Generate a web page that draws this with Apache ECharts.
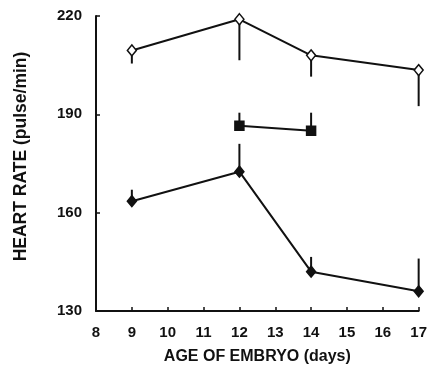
<!DOCTYPE html>
<html>
<head>
<meta charset="utf-8">
<script src="https://cdn.jsdelivr.net/npm/echarts@6/dist/echarts.min.js"></script>
<style>
  html, body { margin: 0; padding: 0; background: #fff; }
  #chart { width: 430px; height: 370px; }
</style>
</head>
<body>
<div id="chart"></div>
<script>
// days of incubation
const days = [9, 12, 14, 17];
const openMean = [209.5, 219, 208, 203.5];
const openLow = [205.5, 206.5, 201.5, 192.5];
const squareDays = [12, 14];
const squareMean = [186.5, 185];
const squareHigh = [190.5, 190.5];
const filledMean = [163.5, 172.5, 142, 136];
const filledHigh = [167, 181, 146.5, 146];
const yTicks = [130, 160, 190, 220];

const ink = "#111";
const font = "Liberation Sans";

function pairs(xs, ys) {
  return xs.map((x, i) => [x, ys[i]]);
}
function bars(xs, ys, ends) {
  return xs.map((x, i) => [x, ys[i], ends[i]]);
}
function errRender(params, api) {
  const a = api.coord([api.value(0), api.value(1)]);
  const b = api.coord([api.value(0), api.value(2)]);
  return {
    type: "line",
    shape: { x1: a[0], y1: a[1], x2: b[0], y2: b[1] },
    style: { stroke: ink, lineWidth: 2 },
  };
}
function errSeries(data) {
  return {
    type: "custom",
    renderItem: errRender,
    data: data,
    encode: { x: 0, y: [1, 2] },
    z: 1,
    silent: true,
  };
}
function lineSeries(data, symbol, fill) {
  return {
    type: "line",
    data: data,
    symbol: symbol,
    symbolSize: symbol === "rect" ? 9 : [9, 11],
    showAllSymbol: true,
    lineStyle: { color: ink, width: 2 },
    itemStyle: { color: fill, borderColor: ink, borderWidth: 1.5 },
    z: 3,
    animation: false,
  };
}

const chart = echarts.init(document.getElementById("chart"));
chart.setOption({
  animation: false,
  backgroundColor: "#fff",
  grid: { left: 96, right: 11, top: 16, bottom: 57 },
  xAxis: {
    type: "value",
    min: 8,
    max: 17,
    interval: 1,
    name: "AGE OF EMBRYO (days)",
    nameLocation: "middle",
    nameGap: 38,
    nameTextStyle: { color: ink, fontFamily: font, fontSize: 16, fontWeight: "bold" },
    axisLine: { lineStyle: { color: ink, width: 2 } },
    axisTick: { inside: true, length: 4, lineStyle: { color: ink, width: 1.5 } },
    axisLabel: { color: ink, fontFamily: font, fontSize: 15, fontWeight: "bold", margin: 14 },
    splitLine: { show: false },
  },
  yAxis: {
    type: "value",
    min: yTicks[0],
    max: yTicks[yTicks.length - 1],
    interval: 30,
    name: "HEART RATE (pulse/min)",
    nameLocation: "middle",
    nameGap: 66,
    nameTextStyle: { color: ink, fontFamily: font, fontSize: 17.5, fontWeight: "bold", padding: [0, 0, 0, 14] },
    axisLine: { show: true, lineStyle: { color: ink, width: 2 } },
    axisTick: { show: true, inside: true, length: 4, lineStyle: { color: ink, width: 1.5 } },
    axisLabel: { color: ink, fontFamily: font, fontSize: 15, fontWeight: "bold", margin: 14 },
    splitLine: { show: false },
  },
  series: [
    errSeries(bars(days, openMean, openLow)),
    errSeries(bars(squareDays, squareMean, squareHigh)),
    errSeries(bars(days, filledMean, filledHigh)),
    lineSeries(pairs(days, openMean), "diamond", "#fff"),
    lineSeries(pairs(squareDays, squareMean), "rect", ink),
    lineSeries(pairs(days, filledMean), "diamond", ink),
  ],
});
</script>
</body>
</html>
